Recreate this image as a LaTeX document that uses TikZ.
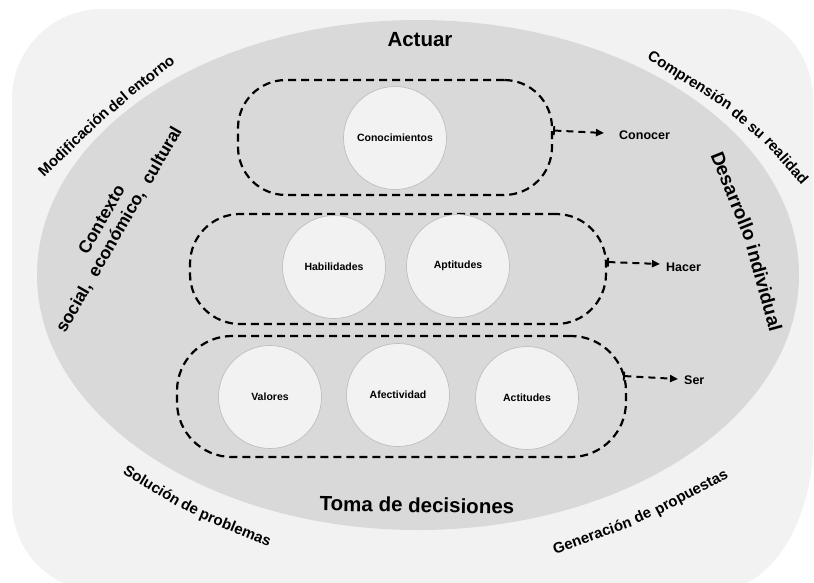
\documentclass[tikz,border=0pt]{standalone}
\usepackage{fontspec}
\setmainfont{Liberation Sans}
\usetikzlibrary{arrows.meta}
\definecolor{outerbg}{HTML}{F2F2F2}
\definecolor{ellbg}{HTML}{D9D9D9}
\definecolor{circline}{HTML}{BFBFBF}
\begin{document}
\begin{tikzpicture}[x=1pt,y=-1pt,
  pill/.style={draw=black, line width=2.2pt, dash pattern=on 8pt off 5pt, inner sep=0pt},
  item/.style={circle, fill=outerbg, draw=circline, line width=0.7pt, minimum size=103pt, inner sep=0pt,
    font=\bfseries\fontsize{10.5}{12}\selectfont},
  link/.style={line width=2pt, dash pattern=on 7pt off 5pt,
    {Bar[width=9pt,line width=1.8pt]}-{Triangle[length=8pt,width=7pt]}},
  lbl/.style={font=\bfseries\fontsize{12.5}{14}\selectfont, inner sep=0pt, anchor=west},
  title/.style={font=\bfseries\fontsize{20.5}{23}\selectfont, inner sep=0pt},
  sidelbl/.style={font=\bfseries\fontsize{17.5}{20}\selectfont, inner sep=0pt, align=center},
  outerword/.style={font=\bfseries\fontsize{15}{17}\selectfont, inner sep=0pt, sloped, anchor=base},
  sideword/.style={font=\bfseries\fontsize{19}{21}\selectfont, inner sep=0pt, sloped, anchor=base}
]
\useasboundingbox (0,0) rectangle (814,582);
\fill[white] (0,0) rectangle (814,582);
\begin{scope}
\clip (0,0) rectangle (814,582);
\fill[outerbg] (12,300) -- (12,99) .. controls (12,49.3) and (52.3,9) .. (102,9)
  -- (723,9) .. controls (772.7,9) and (813,49.3) .. (813,99)
  -- (813,442) .. controls (813,524.8) and (768.2,592) .. (713,592)
  -- (102,592) .. controls (52.3,592) and (12,551.7) .. (12,502) -- cycle;
\end{scope}
\fill[ellbg] (418,275) ellipse [x radius=381pt, y radius=255pt];

% outer curved labels (word by word along gentle curves)
\path (40,184) .. controls (83,136) and (130,97) .. (182,58)
  node[outerword, pos=0.28] (m1) {Modificación}
  node[outerword, pos=0.594] (m2) {del}
  node[outerword, pos=0.815] (m3) {entorno};
\path (645,61) .. controls (699,86) and (768,139) .. (802,188)
  node[outerword, pos=0.25] (k1) {Comprensión}
  node[outerword, pos=0.536] (k2) {de}
  node[outerword, pos=0.634] (k3) {su}
  node[outerword, pos=0.836] (k4) {realidad};
\path (116,468) .. controls (163,501) and (222,531) .. (277,548)
  node[outerword, pos=0.225] (s1) {Solución}
  node[outerword, pos=0.465] (s2) {de}
  node[outerword, pos=0.74] (s3) {problemas};
\path (550,554) .. controls (608,539) and (682,506) .. (733,473)
  node[outerword, pos=0.24] (g1) {Generación}
  node[outerword, pos=0.502] (g2) {de}
  node[outerword, pos=0.763] (g3) {propuestas};

% inner labels
\node[title] (actuar) at (420,40) {Actuar};
\node[title, rotate=-1] (toma) at (417,505) {Toma de decisiones};
\node[sidelbl, rotate=60] (ctx) at (111,225) {Contexto\\social,\ \ económico,\ \ cultural};
\path (703,145) .. controls (736,207) and (756,277) .. (772,345)
  node[sideword, pos=0.28] (d1) {Desarrollo}
  node[sideword, pos=0.73] (d2) {individual};

% pills
\node[pill, rounded corners=48pt, minimum width=314pt, minimum height=115pt] (p1) at (395,137.5) {};
\node[pill, rounded corners=50pt, minimum width=416pt, minimum height=110pt] (p2) at (398,269) {};
\node[pill, rounded corners=55pt, minimum width=449pt, minimum height=121pt] (p3) at (401.5,396.5) {};

% circles
\node[item] (c1) at (395,138) {Conocimientos};
\node[item] (c2) at (334,267) {Habilidades};
\node[item] (c3) at (458,266) {Aptitudes};
\node[item] (c4) at (270,397) {Valores};
\node[item] (c5) at (398,395) {Afectividad};
\node[item] (c6) at (527,398) {Actitudes};

% connectors
\node[lbl] (conocer) at (619,135) {Conocer};
\node[lbl] (hacer) at (666,267) {Hacer};
\node[lbl] (ser) at (684,380) {Ser};
\coordinate (t1) at (604,133);
\coordinate (t2) at (660,264);
\coordinate (t3) at (678,379);
\draw[link] ([yshift=7pt]p1.east) -- (t1);
\draw[link] ([yshift=7pt]p2.east) -- (t2);
\draw[link] ([yshift=20.5pt,xshift=-4pt]p3.east) -- (t3);
\end{tikzpicture}
\end{document}
